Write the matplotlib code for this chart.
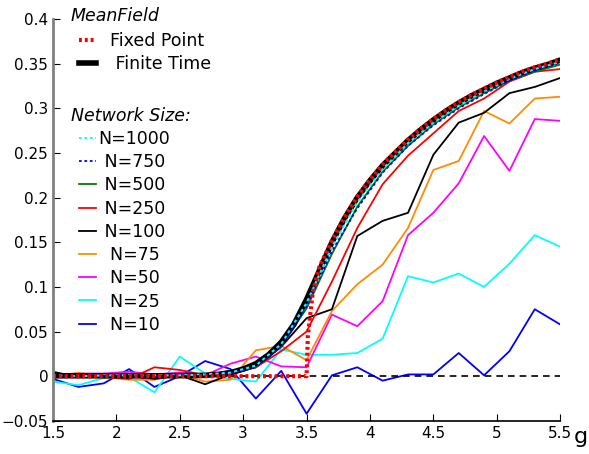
import numpy as np
import matplotlib
matplotlib.use('Agg')
import matplotlib.pyplot as plt
from matplotlib.lines import Line2D

# coupling values for the network simulations
g = [1.5, 1.7, 1.9, 2.1, 2.3, 2.5, 2.7, 2.9, 3.1, 3.3, 3.5,
     3.7, 3.9, 4.1, 4.3, 4.5, 4.7, 4.9, 5.1, 5.3, 5.5]

n1000 = [0.001, 0.000, 0.001, 0.001, 0.001, 0.001, 0.002, 0.004, 0.012, 0.036, 0.082,
         0.145, 0.195, 0.232, 0.261, 0.284, 0.303, 0.319, 0.333, 0.344, 0.352]
n750 = [0.000, 0.000, 0.000, 0.001, 0.000, 0.001, 0.001, 0.003, 0.010, 0.033, 0.078,
        0.140, 0.188, 0.228, 0.258, 0.281, 0.300, 0.316, 0.331, 0.342, 0.351]
n500 = [0.001, 0.001, 0.000, 0.001, 0.001, 0.000, 0.001, 0.004, 0.011, 0.034, 0.076,
        0.137, 0.190, 0.229, 0.258, 0.282, 0.301, 0.317, 0.331, 0.341, 0.349]
n250 = [0.000, 0.001, 0.000, -0.003, 0.010, 0.007, 0.001, 0.006, 0.010, 0.028, 0.050,
        0.106, 0.166, 0.215, 0.247, 0.272, 0.297, 0.311, 0.330, 0.341, 0.344]
n100 = [0.005, -0.001, -0.001, 0.001, -0.003, 0.001, -0.009, 0.002, 0.010, 0.033, 0.065,
        0.075, 0.157, 0.174, 0.183, 0.248, 0.284, 0.295, 0.317, 0.324, 0.334]
n75 = [-0.002, 0.004, -0.001, -0.004, -0.004, 0.002, -0.006, -0.004, 0.029, 0.034, 0.018,
       0.073, 0.103, 0.125, 0.166, 0.231, 0.241, 0.297, 0.283, 0.311, 0.313]
n50 = [0.002, 0.003, 0.003, 0.005, 0.002, 0.004, 0.001, 0.014, 0.022, 0.011, 0.010,
       0.069, 0.056, 0.084, 0.158, 0.183, 0.216, 0.269, 0.230, 0.288, 0.286]
n25 = [-0.006, -0.010, -0.002, -0.001, -0.018, 0.022, 0.003, -0.003, -0.006, 0.030, 0.024,
       0.024, 0.026, 0.042, 0.112, 0.105, 0.115, 0.100, 0.126, 0.158, 0.145]
n10 = [-0.003, -0.012, -0.008, 0.008, -0.012, 0.000, 0.017, 0.008, -0.025, 0.006, -0.042,
       0.001, 0.010, -0.005, 0.002, 0.002, 0.026, 0.001, 0.028, 0.075, 0.058]

# mean-field curves
g_mf = [1.5, 1.7, 1.9, 2.1, 2.3, 2.5, 2.7, 2.8, 2.9, 3.0, 3.1, 3.2, 3.3, 3.4, 3.5,
        3.6, 3.7, 3.8, 3.9, 4.0, 4.1, 4.2, 4.3, 4.4, 4.5, 4.6, 4.7, 4.8, 4.9,
        5.0, 5.1, 5.2, 5.3, 5.4, 5.5]
finite_time = [0.0005, 0.0005, 0.0005, 0.0005, 0.0005, 0.0006, 0.001, 0.002, 0.004, 0.008,
               0.014, 0.024, 0.038, 0.058, 0.086, 0.118, 0.150, 0.177, 0.200, 0.219,
               0.236, 0.250, 0.264, 0.276, 0.287, 0.297, 0.306, 0.314, 0.321, 0.328,
               0.334, 0.340, 0.345, 0.349, 0.354]
g_fp = [1.5, 3.5, 3.51, 3.55, 3.6, 3.7, 3.8, 3.9, 4.0, 4.1, 4.2, 4.3, 4.4, 4.5, 4.6,
        4.7, 4.8, 4.9, 5.0, 5.1, 5.2, 5.3, 5.4, 5.5]
fixed_point = [0.0, 0.0, 0.045, 0.095, 0.122, 0.152, 0.178, 0.201, 0.220, 0.237, 0.251,
               0.265, 0.277, 0.288, 0.298, 0.307, 0.315, 0.322, 0.329, 0.335, 0.341,
               0.346, 0.350, 0.355]

fp_style = dict(color='red', lw=3, ls=(0, (0.7, 0.7)))
ft_style = dict(color='black', lw=4)
dot = (0, (1.5, 1.5))

plt.figure(figsize=(5.89, 4.54), dpi=100)
ax = plt.axes([0.09, 0.073, 0.861, 0.885])

ax.plot(g, n10, color='blue', lw=1.3)
ax.plot(g, n25, color='cyan', lw=1.3)
ax.plot(g, n50, color='magenta', lw=1.3)
ax.plot(g, n75, color='darkorange', lw=1.3)
ax.plot(g, n100, color='black', lw=1.3)
ax.plot(g, n250, color='red', lw=1.3)
ax.plot(g, n500, color='green', lw=1.3)
ax.plot(g_mf, finite_time, **ft_style)
ax.plot(g, n750, color='blue', lw=1.3, ls=dot)
ax.plot(g, n1000, color='cyan', lw=1.5, ls=dot)
ax.plot([1.5, 5.5], [0, 0], color='black', lw=1.2, ls=(0, (4, 3)))
ax.plot(g_fp, fixed_point, **fp_style)

ax.set_xlim(1.5, 5.5)
ax.set_ylim(-0.05, 0.4)
ax.set_xticks([1.5, 2, 2.5, 3, 3.5, 4, 4.5, 5, 5.5])
ax.set_xticklabels(['1.5', '2', '2.5', '3', '3.5', '4', '4.5', '5', '5.5'])
ax.set_yticks([-0.05, 0, 0.05, 0.1, 0.15, 0.2, 0.25, 0.3, 0.35, 0.4])
ax.set_yticklabels(['\u22120.05', '0', '0.05', '0.1', '0.15', '0.2', '0.25', '0.3', '0.35', '0.4'])
ax.tick_params(direction='in', labelsize=11, length=5, top=False, right=False)
ax.spines['top'].set_visible(False)
ax.spines['right'].set_visible(False)
ax.spines['left'].set_color('gray')
ax.spines['left'].set_linewidth(2)
ax.spines['bottom'].set_linewidth(1.2)

leg_kw = dict(loc='upper left', frameon=False, fontsize=12.5, handlelength=1.0,
              handletextpad=0.15, labelspacing=0.3, borderaxespad=0)

# mean-field group
mf_handles = [Line2D([], [], **fp_style), Line2D([], [], **ft_style)]
mf_labels = ['  Fixed Point', '   Finite Time']
leg1 = ax.legend(mf_handles, mf_labels, bbox_to_anchor=(0.037, 0.985), **leg_kw)
ax.add_artist(leg1)

# network-size group
net_handles = [
    Line2D([], [], color='cyan', lw=1.3, ls=dot),
    Line2D([], [], color='blue', lw=1.3, ls=dot),
    Line2D([], [], color='green', lw=1.3),
    Line2D([], [], color='red', lw=1.3),
    Line2D([], [], color='black', lw=1.3),
    Line2D([], [], color='darkorange', lw=1.3),
    Line2D([], [], color='magenta', lw=1.3),
    Line2D([], [], color='cyan', lw=1.3),
    Line2D([], [], color='blue', lw=1.3),
]
net_labels = ['N=1000', ' N=750', ' N=500', ' N=250', ' N=100',
              '  N=75', '  N=50', '  N=25', '  N=10']
ax.legend(net_handles, net_labels, bbox_to_anchor=(0.037, 0.741), **leg_kw)

ax.text(0.035, 1.008, 'MeanField', transform=ax.transAxes, fontsize=12.5,
        style='italic', va='center')
ax.text(0.035, 0.759, 'Network Size:', transform=ax.transAxes, fontsize=12.5,
        style='italic', va='center')

plt.gcf().text(0.974, 0.024, 'g', fontsize=16)

plt.savefig('out.png', dpi=100)
